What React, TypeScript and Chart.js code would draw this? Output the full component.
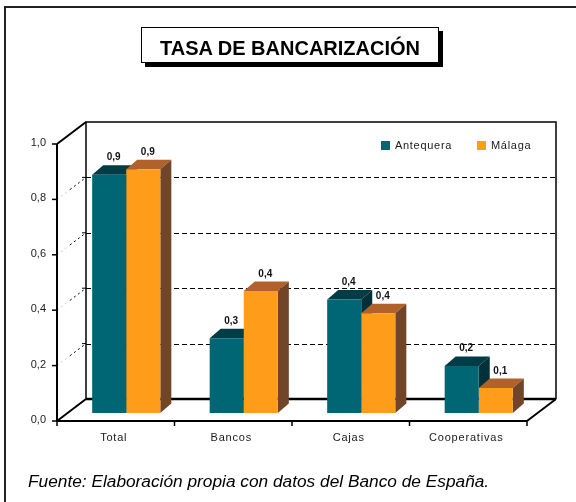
import React, { useEffect, useRef } from 'react';
import { Chart, registerables } from 'chart.js';

Chart.register(...registerables);

const categories = ['Total', 'Bancos', 'Cajas', 'Cooperativas'];
const seriesNames = ['Antequera', 'Málaga'];
const antequera = [0.86, 0.27, 0.41, 0.17];
const malaga = [0.88, 0.44, 0.36, 0.09];
const yTicks = [0, 0.2, 0.4, 0.6, 0.8, 1.0];
const gridValues = [0.2, 0.4, 0.6, 0.8];

const frontColors = ['#006673', '#FF9C1A'];
const topColors = ['#003C46', '#B0622A'];
const sideColors = ['#00313A', '#714527'];

const FRONT = { dx: -10.5, dy: 8 };
const BACK = { dx: 18.5, dy: -14 };
const DEPTH = { dx: 11, dy: -9.5 };

const fmt = (v: number) => (Math.round(v * 10) / 10).toFixed(1).replace('.', ',');

export default function App() {
  const ref = useRef<HTMLCanvasElement>(null);

  useEffect(() => {
    const plugin = {
      id: 'threeD',
      beforeDatasetsDraw(chart: any) {
        const { ctx, chartArea: ca, scales } = chart;
        const ys = scales.y;
        const xs = scales.x;
        const fy = (v: number) => ys.getPixelForValue(v) + FRONT.dy;
        const by = (v: number) => ys.getPixelForValue(v) + BACK.dy;
        const fx0 = ca.left + FRONT.dx;
        const fx1 = ca.right + FRONT.dx;
        const bx0 = ca.left + BACK.dx;
        const bx1 = ca.right + BACK.dx;
        ctx.save();
        ctx.lineCap = 'butt';

        // back wall gridlines
        ctx.strokeStyle = '#000';
        ctx.lineWidth = 1;
        ctx.setLineDash([5, 3]);
        gridValues.forEach((v) => {
          const yy = Math.round(by(v)) + 0.5;
          ctx.beginPath();
          ctx.moveTo(bx0, yy);
          ctx.lineTo(bx1, yy);
          ctx.stroke();
        });
        // left wall gridlines
        ctx.setLineDash([2, 3]);
        gridValues.forEach((v) => {
          const ax = fx0, ay = fy(v), bxx = bx0, byy = by(v);
          const mx = ax + (bxx - ax) * 0.45, my = ay + (byy - ay) * 0.45;
          ctx.strokeStyle = '#c8c8c8';
          ctx.beginPath();
          ctx.moveTo(ax, ay);
          ctx.lineTo(mx, my);
          ctx.stroke();
          ctx.strokeStyle = '#000';
          ctx.beginPath();
          ctx.moveTo(mx, my);
          ctx.lineTo(bxx, byy);
          ctx.stroke();
        });
        ctx.setLineDash([]);

        // back wall border
        ctx.strokeStyle = '#000';
        ctx.lineWidth = 1.5;
        ctx.beginPath();
        ctx.moveTo(bx0, by(0));
        ctx.lineTo(bx0, by(1));
        ctx.lineTo(bx1, by(1));
        ctx.lineTo(bx1, by(0));
        ctx.stroke();
        // small ticks on back wall left edge
        ctx.lineWidth = 1;
        gridValues.forEach((v) => {
          ctx.beginPath();
          ctx.moveTo(bx0 - 4, by(v));
          ctx.lineTo(bx0, by(v));
          ctx.stroke();
        });
        // floor back edge
        ctx.lineWidth = 2.5;
        ctx.beginPath();
        ctx.moveTo(bx0, by(0));
        ctx.lineTo(bx1, by(0));
        ctx.stroke();
        // left wall and floor diagonals
        ctx.lineWidth = 2;
        ctx.beginPath();
        ctx.moveTo(fx0, fy(1));
        ctx.lineTo(bx0, by(1));
        ctx.moveTo(fx0, fy(0));
        ctx.lineTo(bx0, by(0));
        ctx.moveTo(fx1, fy(0));
        ctx.lineTo(bx1, by(0));
        ctx.stroke();
        // front axes
        ctx.beginPath();
        ctx.moveTo(fx0, fy(1));
        ctx.lineTo(fx0, fy(0));
        ctx.lineTo(fx1, fy(0));
        ctx.stroke();

        // y ticks + labels
        ctx.lineWidth = 1.5;
        ctx.fillStyle = '#1a1a1a';
        ctx.font = '11px Arial, "Liberation Sans", sans-serif';
        ctx.textAlign = 'right';
        ctx.textBaseline = 'middle';
        yTicks.forEach((v) => {
          const yy = fy(v);
          ctx.beginPath();
          ctx.moveTo(fx0 - 5, yy);
          ctx.lineTo(fx0, yy);
          ctx.stroke();
          ctx.fillText(fmt(v), fx0 - 11, yy - 1);
        });

        // x ticks + labels
        const n = categories.length;
        const step = (ca.right - ca.left) / n;
        for (let i = 0; i <= n; i++) {
          const xx = ca.left + i * step + FRONT.dx;
          ctx.beginPath();
          ctx.moveTo(xx, fy(0));
          ctx.lineTo(xx, fy(0) + 5);
          ctx.stroke();
        }
        ctx.textAlign = 'center';
        (ctx as any).letterSpacing = '0.8px';
        categories.forEach((c, i) => {
          const xx = xs.getPixelForValue(i) + FRONT.dx;
          ctx.fillText(c, xx - 2, fy(0) + 17);
        });
        (ctx as any).letterSpacing = '0px';

        // bar tops and sides
        categories.forEach((_, i) => {
          [0, 1].forEach((d) => {
            const el = chart.getDatasetMeta(d).data[i];
            const p = el.getProps(['x', 'y', 'base', 'width'], true);
            const l = p.x - p.width / 2;
            const r = p.x + p.width / 2;
            const t = p.y;
            const b = p.base;
            ctx.fillStyle = topColors[d];
            ctx.beginPath();
            ctx.moveTo(l, t);
            ctx.lineTo(r, t);
            ctx.lineTo(r + DEPTH.dx, t + DEPTH.dy);
            ctx.lineTo(l + DEPTH.dx, t + DEPTH.dy);
            ctx.closePath();
            ctx.fill();
            ctx.fillStyle = sideColors[d];
            ctx.beginPath();
            ctx.moveTo(r, t);
            ctx.lineTo(r + DEPTH.dx, t + DEPTH.dy);
            ctx.lineTo(r + DEPTH.dx, b + DEPTH.dy);
            ctx.lineTo(r, b);
            ctx.closePath();
            ctx.fill();
          });
        });
        ctx.restore();
      },
      afterDatasetsDraw(chart: any) {
        const { ctx } = chart;
        ctx.save();
        // value labels
        ctx.fillStyle = '#111';
        ctx.font = 'bold 10px Arial, "Liberation Sans", sans-serif';
        ctx.textAlign = 'center';
        ctx.textBaseline = 'alphabetic';
        [antequera, malaga].forEach((arr, d) => {
          const meta = chart.getDatasetMeta(d);
          arr.forEach((v, i) => {
            const p = meta.data[i].getProps(['x', 'y'], true);
            ctx.fillText(fmt(v), p.x + DEPTH.dx / 2 - 1, p.y + DEPTH.dy - 5);
          });
        });
        // legend
        ctx.font = '11px Arial, "Liberation Sans", sans-serif';
        ctx.textAlign = 'left';
        ctx.textBaseline = 'middle';
        (ctx as any).letterSpacing = '0.7px';
        const legendX = [381, 477];
        seriesNames.forEach((s, d) => {
          ctx.fillStyle = frontColors[d];
          ctx.fillRect(legendX[d], 141, 9, 9);
          ctx.fillStyle = '#1a1a1a';
          ctx.fillText(s, legendX[d] + 14, 146);
        });
        (ctx as any).letterSpacing = '0px';
        ctx.restore();
      },
    };

    const chart = new Chart(ref.current as HTMLCanvasElement, {
      type: 'bar',
      data: {
        labels: categories,
        datasets: [
          {
            label: seriesNames[0],
            data: antequera,
            backgroundColor: frontColors[0],
            borderWidth: 0,
            categoryPercentage: 0.58,
            barPercentage: 1,
          },
          {
            label: seriesNames[1],
            data: malaga,
            backgroundColor: frontColors[1],
            borderWidth: 0,
            categoryPercentage: 0.58,
            barPercentage: 1,
          },
        ],
      },
      options: {
        responsive: false,
        animation: false,
        devicePixelRatio: 1,
        layout: { padding: { left: 67.5, right: 38.5, top: 136, bottom: 89 } },
        scales: {
          x: { display: false, offset: true },
          y: { display: false, min: 0, max: 1 },
        },
        plugins: { legend: { display: false }, tooltip: { enabled: false } },
      },
      plugins: [plugin],
    });
    return () => chart.destroy();
  }, []);

  return (
    <div
      style={{
        position: 'absolute',
        left: 0,
        top: 0,
        width: 576,
        height: 502,
        background: '#fff',
        fontFamily: 'Arial, "Liberation Sans", sans-serif',
        overflow: 'hidden',
      }}
    >
      <canvas ref={ref} width={576} height={502} style={{ position: 'absolute', left: 0, top: 0 }} />
      <div style={{ position: 'absolute', left: 4, top: 6, width: 572, height: 2, background: '#222' }} />
      <div style={{ position: 'absolute', left: 4, top: 6, width: 2, height: 496, background: '#222' }} />
      <div
        style={{
          position: 'absolute',
          left: 141,
          top: 27,
          width: 296,
          height: 34,
          border: '1.5px solid #000',
          boxShadow: '4px 4px 0 #000',
          background: '#fff',
          fontWeight: 'bold',
          fontSize: 20,
          lineHeight: '40px',
          textAlign: 'center',
          color: '#000',
          whiteSpace: 'nowrap',
        }}
      >
        TASA DE BANCARIZACIÓN
      </div>
      <div
        style={{
          position: 'absolute',
          left: 28,
          top: 470,
          fontStyle: 'italic',
          fontSize: 17.3,
          lineHeight: '22px',
          color: '#000',
          whiteSpace: 'nowrap',
        }}
      >
        Fuente: Elaboración propia con datos del Banco de España.
      </div>
    </div>
  );
}
